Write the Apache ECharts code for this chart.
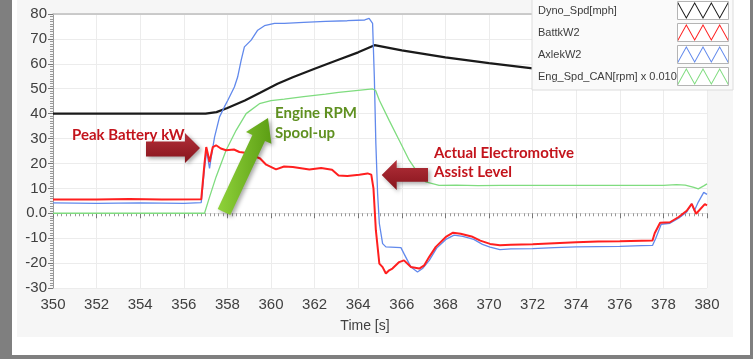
<!DOCTYPE html>
<html>
<head>
<meta charset="utf-8">
<script src="https://cdn.jsdelivr.net/npm/echarts@6/dist/echarts.min.js"></script>
<style>
  html, body { margin: 0; padding: 0; background: #7f7f7f; }
  #chart { width: 753px; height: 359px; }
</style>
</head>
<body>
<div id="chart"></div>
<script>
/* series names, as in the legend */
var seriesNames = ['Dyno_Spd[mph]', 'BattkW2', 'AxlekW2', 'Eng_Spd_CAN[rpm] x 0.010'];
var seriesColors = ['#1a1a1a', '#ff1f1f', '#6189ec', '#7fdc7f'];

/* [time s, value] */
var dynoData = [
    [350, 40], [357, 40], [357.5, 40.6], [358, 42.3], [358.8, 45.3], [359.5, 48.4],
    [360.3, 52], [361, 54.6], [362, 58], [363, 61.3], [364, 64.6], [364.75, 67.5],
    [366, 65.4], [368, 62.6], [370, 60.3], [372, 58.2], [374, 56.2], [376, 54.3],
    [378, 52.4], [380, 50.5]
];

var battData = [
    [350, 5.5], [352, 5.5], [353.5, 5.7], [355, 5.5], [356.8, 5.6], [356.95, 20],
    [357.03, 26.6], [357.1, 24], [357.18, 20.6], [357.33, 26.6], [357.48, 27.3],
    [357.7, 26], [357.94, 25.3], [358.3, 25.6], [358.55, 24.6], [358.9, 24.2],
    [359.16, 23.3], [359.5, 22], [359.78, 19.5], [360.23, 17.6], [360.6, 18.8],
    [361, 18.6], [361.76, 17.6], [362.3, 18.2], [362.8, 17.5], [363.1, 15.2],
    [363.5, 15], [364.05, 15.5], [364.43, 16], [364.6, 15.5], [364.7, 10],
    [364.81, -6.8], [364.97, -20.2], [365.12, -21.6], [365.27, -24.2], [365.42, -22.9],
    [365.57, -22.2], [365.88, -19.6], [366.1, -18.9], [366.42, -21.6], [366.8, -22.2],
    [367.03, -20.9], [367.26, -17.5], [367.56, -13.5], [368.02, -9.5], [368.35, -7.8],
    [368.7, -8.2], [369.2, -9.3], [369.6, -11], [370.05, -12.3], [370.5, -12.8],
    [371, -12.6], [372, -12.4], [373, -12], [374, -11.6], [375, -11.3], [376, -11.2],
    [377, -11], [377.5, -10.9], [377.6, -8], [377.85, -3.8], [378.3, -3.6],
    [378.7, -1.5], [379.07, 1], [379.3, 3.8], [379.5, -0.2], [379.9, 3.7], [380, 3.2]
];

var axleData = [
    [350, 4.2], [352, 4], [354, 4.2], [356, 4], [356.8, 4.3], [356.95, 18],
    [357.05, 25], [357.18, 18], [357.25, 22], [357.41, 30.6], [357.64, 38.7],
    [357.86, 42.7], [358.02, 45.4], [358.32, 50.7], [358.47, 54.7], [358.63, 61.4],
    [358.78, 66.8], [359.09, 69.5], [359.39, 73.5], [359.7, 75.3], [360.16, 76.2],
    [360.61, 76.2], [361.5, 76.6], [362.5, 77], [363.5, 77.3], [364.3, 77.6],
    [364.5, 78.2], [364.66, 76.2], [364.74, 54.7], [364.81, 28], [364.89, 7.9],
    [364.97, -4.1], [365.12, -12.2], [365.27, -13.5], [365.96, -13.8], [366.1, -16.2],
    [366.42, -21.6], [366.72, -23.6], [366.95, -22.2], [367.26, -18.9], [367.6, -14],
    [368.02, -10.5], [368.4, -8.8], [368.8, -9.3], [369.3, -10.5], [369.7, -12.5],
    [370.05, -13.6], [370.5, -14.6], [371, -14.3], [372, -14.2], [373, -13.8],
    [374, -13.5], [375, -13.4], [376, -13.3], [377, -13], [377.5, -12.9],
    [377.65, -10], [377.9, -4.4], [378.3, -4], [378.7, -2], [379.07, 0.5],
    [379.3, 3.8], [379.42, 1], [379.6, 4.5], [379.85, 8.4], [380, 7.6]
];

var engData = [
    [350, 0], [356.95, 0], [357.18, 6.5], [357.48, 14.6], [357.94, 25.3], [358.4, 33.3],
    [358.86, 40], [359.47, 44], [360, 45.2], [360.61, 45.8], [361.5, 46.8], [362.5, 47.8],
    [363.1, 48.5], [364, 49.3], [364.66, 49.9], [364.8, 49.3], [364.97, 45.4],
    [365.42, 37.3], [365.88, 29.3], [366.34, 21.3], [366.65, 17.3], [367.1, 12.6],
    [367.71, 11.2], [368.5, 11.3], [369.5, 11.1], [370.5, 11.2], [372, 11.2],
    [374, 11.2], [376, 11.2], [378, 11.2], [378.6, 11.5], [379, 11.3], [379.4, 10.4],
    [379.6, 9.8], [379.85, 11], [380, 11.8]
];

/* axis ranges */
var xMin = 350, xMax = 380, xStep = 2;
var yMin = -30, yMax = 80, yStep = 10;

/* zigzag swatches for the legend */
var zigDown = 'path://M0,0 L8.33,13 L16.67,0 L25,13 L33.33,0 L41.67,13 L50,0 L50,1.8 L41.67,14.8 L33.33,1.8 L25,14.8 L16.67,1.8 L8.33,14.8 L0,1.8 Z';
var zigUp = 'path://M0,13 L8.33,0 L16.67,13 L25,0 L33.33,13 L41.67,0 L50,13 L50,14.8 L41.67,1.8 L33.33,14.8 L25,1.8 L16.67,14.8 L8.33,1.8 L0,14.8 Z';

var labelFont = 'Liberation Sans';
var noteFont = 'Lato';

function grad(top, bottom) {
    return new echarts.graphic.LinearGradient(0, 0, 0, 1, [
        { offset: 0, color: top },
        { offset: 1, color: bottom }
    ]);
}

function makeSeries(i, data, width, z) {
    return {
        name: seriesNames[i],
        type: 'line',
        data: data,
        showSymbol: false,
        symbol: 'none',
        z: z,
        itemStyle: { color: seriesColors[i] },
        lineStyle: { color: seriesColors[i], width: width },
        emphasis: { disabled: true }
    };
}

var chart = echarts.init(document.getElementById('chart'), null, { renderer: 'canvas' });

var legendTop = 2, legendRow = 22;
var swatchFrames = [];
for (var k = 0; k < seriesNames.length; k++) {
    swatchFrames.push({
        type: 'rect', z: 3, silent: true,
        shape: { x: 677.5, y: legendTop + k * legendRow - 0.5, width: 51, height: 18 },
        style: { fill: '#ffffff', stroke: '#b4b4b4', lineWidth: 1 }
    });
}

var option = {
    animation: false,
    backgroundColor: '#7f7f7f',
    grid: {
        left: 53, right: 46, top: 14, bottom: 71,
        show: true, backgroundColor: '#ffffff', borderWidth: 0
    },
    legend: {
        orient: 'vertical',
        left: 538, top: legendTop,
        padding: 0,
        itemGap: legendRow - 17,
        itemWidth: 50, itemHeight: 17,
        align: 'right',
        symbolKeepAspect: false,
        selectedMode: false,
        formatter: function (name) { return '{n|' + name + '}'; },
        textStyle: {
            fontFamily: labelFont, fontSize: 11, color: '#3c3c3c',
            rich: { n: { width: 135, align: 'left', fontFamily: labelFont, fontSize: 11, color: '#3c3c3c' } }
        },
        data: [
            { name: seriesNames[0], icon: zigDown },
            { name: seriesNames[1], icon: zigUp },
            { name: seriesNames[2], icon: zigUp },
            { name: seriesNames[3], icon: zigUp }
        ]
    },
    xAxis: [{
        type: 'value',
        min: xMin, max: xMax, interval: xStep,
        name: 'Time [s]',
        nameLocation: 'middle',
        nameGap: 31,
        nameTextStyle: { fontFamily: labelFont, fontSize: 14, color: '#404040', padding: [0, 30, 0, 0] },
        axisLine: { show: true, lineStyle: { color: '#e2e2e2' } },
        axisTick: { show: true, length: 5, lineStyle: { color: '#777' } },
        minorTick: { show: true, splitNumber: 10, length: 3, lineStyle: { color: '#999' } },
        axisLabel: { fontFamily: labelFont, fontSize: 15, color: '#404040', margin: 9 },
        splitLine: { show: true, lineStyle: { color: '#ececec' } }
    }, {
        type: 'value', position: 'top',
        min: xMin, max: xMax,
        axisLine: { show: true, lineStyle: { color: '#bdbdbd', width: 1.5 } },
        axisTick: { show: false }, axisLabel: { show: false }, splitLine: { show: false }
    }],
    yAxis: {
        type: 'value',
        min: yMin, max: yMax, interval: yStep,
        axisLine: { show: true, lineStyle: { color: '#9a9a9a' } },
        axisTick: { show: true, length: 5, lineStyle: { color: '#777' } },
        minorTick: { show: true, splitNumber: 10, length: 3, lineStyle: { color: '#999' } },
        axisLabel: {
            fontFamily: labelFont, fontSize: 15, color: '#404040', margin: 6,
            formatter: function (v) { return v === 0 ? '0.0' : String(v); }
        },
        splitLine: { show: true, lineStyle: { color: '#ececec' } }
    },
    series: [
        makeSeries(0, dynoData, 2.2, 2),
        makeSeries(2, axleData, 1.3, 2),
        makeSeries(3, engData, 1.3, 2),
        makeSeries(1, battData, 2, 2.5)
    ],
    graphic: {
        elements: [
            /* page frame */
            { type: 'rect', z: -10, silent: true, shape: { x: 12, y: 0, width: 738, height: 355 }, style: { fill: '#ffffff' } },
            { type: 'rect', z: -9, silent: true, shape: { x: 17, y: 0, width: 716, height: 337 }, style: { fill: '#f6f6f6' } },
            /* legend panel */
            { type: 'rect', z: 3, silent: true, shape: { x: 532, y: -1, width: 201, height: 91 }, style: { fill: '#fafafa', stroke: '#dcdcdc', lineWidth: 1 } }
        ].concat(swatchFrames).concat([
            /* annotations */
            {
                type: 'polygon', z: 10, silent: true,
                shape: { points: [[146, 141.5], [185, 141.5], [185, 133], [200, 148], [185, 163], [185, 156.5], [146, 156.5]] },
                style: { fill: grad('#b3303a', '#86141c'), shadowBlur: 4, shadowOffsetX: 2, shadowOffsetY: 2, shadowColor: 'rgba(0,0,0,0.35)' }
            },
            {
                type: 'polygon', z: 10, silent: true,
                shape: { points: [[428, 168], [396.7, 168], [396.7, 160], [381.7, 175], [396.7, 190], [396.7, 181.7], [428, 181.7]] },
                style: { fill: grad('#b3303a', '#86141c'), shadowBlur: 4, shadowOffsetX: 2, shadowOffsetY: 2, shadowColor: 'rgba(0,0,0,0.35)' }
            },
            {
                type: 'polygon', z: 10, silent: true,
                shape: { points: [[217.7, 209], [252.4, 134.9], [246, 132], [268, 118], [271.4, 143.8], [265, 140.9], [230.3, 215]] },
                style: { fill: new echarts.graphic.LinearGradient(0, 0, 1, 0, [
                    { offset: 0, color: '#8fd23a' }, { offset: 1, color: '#5c9e14' }
                ]), shadowBlur: 4, shadowOffsetX: 2, shadowOffsetY: 2, shadowColor: 'rgba(0,0,0,0.35)' }
            },
            {
                type: 'text', z: 11, silent: true, x: 72, y: 135,
                style: { text: 'Peak Battery kW', fill: '#c3141c', font: 'bold 15px ' + noteFont, verticalAlign: 'middle' }
            },
            {
                type: 'text', z: 11, silent: true, x: 275, y: 113,
                style: { text: 'Engine RPM\nSpool-up', fill: '#5f9020', font: 'bold 15px ' + noteFont, lineHeight: 20, verticalAlign: 'top', y: -10 }
            },
            {
                type: 'text', z: 11, silent: true, x: 434, y: 154,
                style: { text: 'Actual Electromotive\nAssist Level', fill: '#c3141c', font: 'bold 15px ' + noteFont, lineHeight: 19, verticalAlign: 'top', y: -10 }
            }
        ])
    }
};

chart.setOption(option);
</script>
</body>
</html>
